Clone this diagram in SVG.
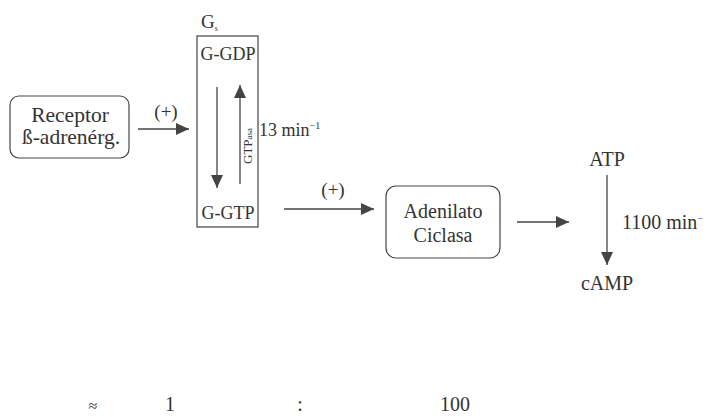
<svg xmlns="http://www.w3.org/2000/svg" width="707" height="417" viewBox="0 0 707 417">
<style>
text{font-family:"Liberation Serif","Times New Roman",serif;fill:#333;font-size:20px}
.c{text-anchor:middle}
.r{font-size:21.5px}
.m{font-size:18px}
.p{font-size:19px}
.s{font-size:18px}
.sup{font-size:10px}
.g{font-size:13px}
.box{fill:#fff;stroke:#444;stroke-width:1.2}
.ln{stroke:#444;stroke-width:1.3;fill:none}
</style>
<defs>
<marker id="ah" viewBox="0 0 13 12" refX="13" refY="6" markerWidth="13" markerHeight="12" markerUnits="userSpaceOnUse" orient="auto">
<path d="M0,0 L13,6 L0,12 z" fill="#444"/>
</marker>
</defs>
<rect width="707" height="417" fill="#fff"/>
<g id="receptor">
<rect class="box" x="10" y="96" width="119" height="62" rx="9"/>
<text class="c r" x="70" y="122">Receptor</text>
<text class="c r" x="71" y="144">ß-adrenérg.</text>
</g>
<g id="gs">
<text class="m" x="201" y="28" style="font-size:19px">G<tspan style="font-size:8px" dy="3">s</tspan></text>
<rect class="box" x="197" y="36" width="61" height="191"/>
<text class="c m" x="228" y="60">G-GDP</text>
<text class="c m" x="228" y="219">G-GTP</text>
<text class="g" transform="translate(252,164) rotate(-90)">GTP<tspan style="font-size:9px">asa</tspan></text>
<text class="s" x="259" y="136">13 min<tspan class="sup" dy="-7">−1</tspan></text>
</g>
<g id="adenilato">
<rect class="box" x="386" y="186" width="114" height="72" rx="10"/>
<text class="c" x="443" y="218">Adenilato</text>
<text class="c" x="443" y="242">Ciclasa</text>
</g>
<g id="atp">
<text class="c" x="607" y="166">ATP</text>
<text class="c" x="607" y="290">cAMP</text>
<text x="622" y="229">1100 min<tspan class="sup" dy="-7">−</tspan></text>
</g>
<g id="connectors">
<line class="ln" x1="138" y1="129" x2="189" y2="129" marker-end="url(#ah)"/>
<text class="c p" x="166" y="118">(+)</text>
<line class="ln" x1="217" y1="87" x2="217" y2="188" marker-end="url(#ah)"/>
<line class="ln" x1="240" y1="184" x2="240" y2="85" marker-end="url(#ah)"/>
<line class="ln" x1="284" y1="209" x2="374" y2="209" marker-end="url(#ah)"/>
<text class="c p" x="333" y="196">(+)</text>
<line class="ln" x1="517" y1="222" x2="569" y2="222" marker-end="url(#ah)"/>
<line class="ln" x1="607" y1="175" x2="607" y2="265" marker-end="url(#ah)"/>
</g>
<g id="ratio">
<text class="c" x="93" y="411" style="font-size:16px">≈</text>
<text class="c" x="170" y="411">1</text>
<text class="c" x="300" y="411">:</text>
<text class="c" x="455" y="411">100</text>
</g>
</svg>
